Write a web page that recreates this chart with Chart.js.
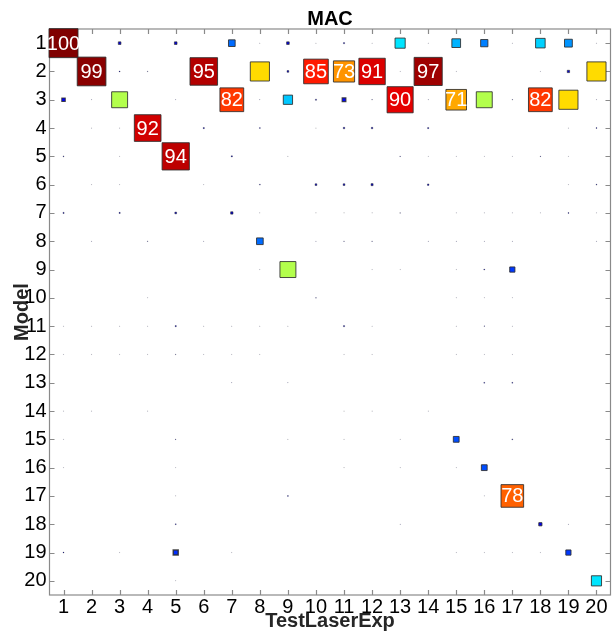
<!DOCTYPE html>
<html>
<head>
<meta charset="utf-8">
<script src="https://cdn.jsdelivr.net/npm/chart.js@4.4.1/dist/chart.umd.min.js"></script>
<style>
  html, body { margin: 0; padding: 0; background: #fff; overflow: hidden; }
  #wrap { position: relative; width: 632px; height: 632px; }
</style>
</head>
<body>
<div id="wrap"><canvas id="macChart"></canvas></div>
<script>
// Ejes: columnas = TestLaserExp, filas = Model
const testLaserExp = [1, 2, 3, 4, 5, 6, 7, 8, 9, 10, 11, 12, 13, 14, 15, 16, 17, 18, 19, 20];
const models = [1, 2, 3, 4, 5, 6, 7, 8, 9, 10, 11, 12, 13, 14, 15, 16, 17, 18, 19, 20];

// Valores MAC (%), una fila por modelo
const macValues = [
    [100, 0, 9, 0, 9, 0, 23, 1, 9, 1, 4, 1, 35, 1, 30, 25, 1, 33, 27, 1],
    [0, 99, 3, 2, 0, 95, 0, 66, 6, 85, 73, 91, 1, 97, 1, 0, 0, 1, 8, 66],
    [12, 1, 55, 0, 1, 0, 82, 1, 32, 4, 13, 2, 90, 1, 71, 55, 2, 82, 66, 1],
    [0, 1, 1, 92, 0, 4, 0, 3, 0, 1, 5, 5, 0, 4, 0, 0, 0, 0, 1, 3],
    [3, 0, 1, 0, 94, 0, 4, 0, 1, 0, 0, 0, 2, 1, 1, 1, 1, 2, 1, 0],
    [0, 1, 1, 0, 0, 1, 0, 3, 0, 6, 6, 7, 0, 5, 0, 0, 0, 0, 1, 3],
    [4, 0, 4, 0, 6, 0, 8, 1, 0, 1, 1, 1, 2, 0, 1, 1, 1, 1, 3, 1],
    [0, 1, 0, 2, 0, 1, 0, 23, 0, 1, 2, 2, 0, 1, 1, 1, 1, 0, 0, 1],
    [0, 0, 0, 0, 0, 0, 0, 1, 55, 0, 0, 1, 1, 0, 1, 3, 18, 0, 0, 0],
    [0, 0, 0, 1, 0, 0, 0, 0, 0, 2, 0, 0, 0, 0, 1, 1, 1, 0, 0, 0],
    [1, 1, 1, 1, 4, 1, 1, 1, 1, 0, 4, 1, 0, 0, 1, 2, 1, 0, 0, 0],
    [1, 1, 1, 1, 2, 1, 1, 1, 0, 0, 1, 1, 0, 0, 1, 1, 1, 0, 0, 0],
    [0, 0, 0, 0, 0, 0, 1, 0, 1, 0, 0, 0, 0, 0, 0, 3, 3, 0, 0, 0],
    [1, 1, 0, 1, 0, 0, 0, 0, 0, 0, 1, 1, 0, 1, 0, 0, 0, 0, 0, 0],
    [1, 0, 0, 0, 2, 0, 0, 0, 1, 0, 1, 0, 1, 0, 20, 0, 3, 0, 0, 0],
    [1, 0, 0, 0, 1, 0, 0, 0, 0, 0, 1, 0, 1, 0, 1, 20, 0, 0, 0, 0],
    [0, 0, 0, 0, 1, 0, 0, 0, 3, 0, 0, 0, 0, 0, 0, 1, 78, 0, 0, 0],
    [0, 0, 0, 0, 3, 0, 0, 0, 0, 0, 0, 0, 1, 0, 0, 0, 0, 11, 1, 0],
    [3, 0, 1, 0, 17, 0, 1, 0, 0, 0, 0, 0, 0, 0, 1, 1, 1, 1, 18, 0],
    [0, 0, 0, 0, 1, 0, 0, 0, 0, 0, 0, 0, 0, 0, 0, 0, 0, 0, 0, 35]
];

// Umbral para escribir el valor dentro del cuadrado
const labelThreshold = 70;

// Construir los puntos a partir de la matriz
const puntos = [];
models.forEach((m, i) => {
    testLaserExp.forEach((t, j) => {
        const v = macValues[i][j];
        if (v > 0) puntos.push({ x: t, y: m, v: v });
    });
});

// Colormap tipo "jet" (0..100)
function jet(v) {
    const t = v / 100;
    const c = x => Math.round(255 * Math.max(0, Math.min(1, x)));
    const r = c(Math.min(4 * t - 1.5, -4 * t + 4.5));
    const g = c(Math.min(4 * t - 0.5, -4 * t + 3.5));
    const b = c(Math.min(4 * t + 0.5, -4 * t + 2.5));
    return `rgb(${r}, ${g}, ${b})`;
}

const lado = v => 0.29 * v;   // lado del cuadrado en px

const fontFamily = "'Liberation Sans', Arial, sans-serif";
const axisColor = '#8a8a8a';

// Caja y ticks hacia dentro (estilo Matlab)
const boxPlugin = {
    id: 'macBox',
    beforeDatasetsDraw(chart) {
        const { ctx, chartArea: a, scales } = chart;
        const tl = 5;
        ctx.save();
        ctx.strokeStyle = axisColor;
        ctx.lineWidth = 1.2;
        ctx.strokeRect(a.left, a.top, a.right - a.left, a.bottom - a.top);
        ctx.beginPath();
        testLaserExp.forEach(t => {
            const x = Math.round(scales.x.getPixelForValue(t)) + 0.5;
            ctx.moveTo(x, a.top); ctx.lineTo(x, a.top + tl);
            ctx.moveTo(x, a.bottom); ctx.lineTo(x, a.bottom - tl);
        });
        models.forEach(m => {
            const y = Math.round(scales.y.getPixelForValue(m)) + 0.5;
            ctx.moveTo(a.left, y); ctx.lineTo(a.left + tl, y);
            ctx.moveTo(a.right, y); ctx.lineTo(a.right - tl, y);
        });
        ctx.stroke();
        ctx.restore();
    },
    afterDatasetsDraw(chart) {
        const { ctx } = chart;
        const meta = chart.getDatasetMeta(0);
        ctx.save();
        ctx.fillStyle = '#fff';
        ctx.font = `20px ${fontFamily}`;
        ctx.textAlign = 'center';
        ctx.textBaseline = 'middle';
        meta.data.forEach((el, i) => {
            const p = puntos[i];
            if (p.v >= labelThreshold) ctx.fillText(String(p.v), el.x, el.y + 1);
        });
        ctx.restore();
    }
};

const ctxMac = document.getElementById('macChart').getContext('2d');
new Chart(ctxMac, {
    type: 'scatter',
    data: {
        datasets: [{
            label: 'MAC',
            data: puntos,
            pointStyle: 'rect',
            pointRadius: c => lado(c.raw.v) / Math.SQRT2,
            backgroundColor: c => jet(c.raw.v),
            borderColor: 'rgba(45, 45, 45, 0.85)',
            borderWidth: c => lado(c.raw.v) < 5 ? Math.max(0.3, lado(c.raw.v) * 0.3) : 1,
            clip: false
        }]
    },
    options: {
        responsive: true,
        maintainAspectRatio: false,
        animation: false,
        events: [],
        layout: { padding: { left: 0, right: 14.5, top: 0, bottom: 0 } },
        plugins: {
            legend: { display: false },
            tooltip: { enabled: false },
            title: {
                display: true,
                text: 'MAC',
                fullSize: false,
                color: '#000',
                font: { family: fontFamily, size: 20, weight: 'bold', lineHeight: 1 },
                padding: { top: 9, bottom: 0 }
            }
        },
        scales: {
            x: {
                type: 'linear',
                position: 'bottom',
                min: 0.5,
                max: 20.5,
                afterBuildTicks: s => { s.ticks = testLaserExp.map(v => ({ value: v })); },
                afterFit: s => { s.height = 37; },
                grid: { display: false, drawTicks: false },
                border: { display: false },
                ticks: {
                    color: '#000',
                    padding: 0,
                    maxRotation: 0,
                    autoSkip: false,
                    font: { family: fontFamily, size: 20 }
                },
                title: {
                    display: true,
                    text: 'TestLaserExp',
                    color: '#262626',
                    font: { family: fontFamily, size: 20, weight: 'bold', lineHeight: 1 },
                    padding: 1
                }
            },
            y: {
                type: 'linear',
                reverse: true,
                min: 0.5,
                max: 20.5,
                afterBuildTicks: s => { s.ticks = models.map(v => ({ value: v })); },
                afterFit: s => { s.width = 49.5; },
                grid: { display: false, drawTicks: false },
                border: { display: false },
                ticks: {
                    color: '#000',
                    padding: 3,
                    autoSkip: false,
                    font: { family: fontFamily, size: 20 }
                },
                title: {
                    display: true,
                    text: 'Model',
                    color: '#262626',
                    font: { family: fontFamily, size: 20, weight: 'bold', lineHeight: 1 },
                    padding: 12
                }
            }
        }
    },
    plugins: [boxPlugin]
});
</script>
</body>
</html>
